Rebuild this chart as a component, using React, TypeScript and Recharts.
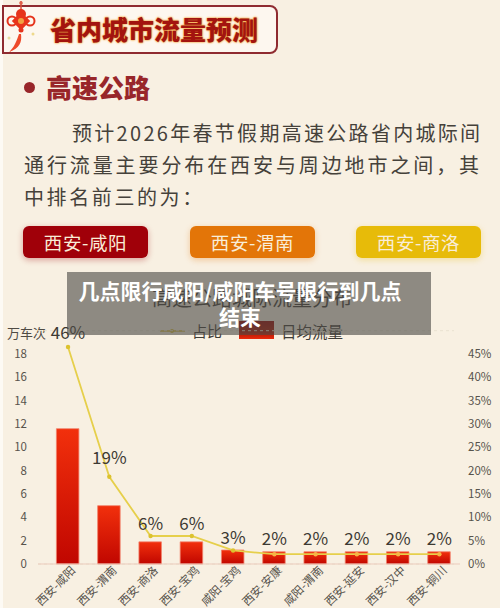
import React from 'react'
import { ComposedChart, Bar, Line, XAxis, YAxis, CartesianGrid, LabelList } from 'recharts'

const categories = ['西安-咸阳', '西安-渭南', '西安-商洛', '西安-宝鸡', '咸阳-宝鸡', '西安-安康', '咸阳-渭南', '西安-延安', '西安-汉中', '西安-铜川']
const dailyFlow = [11.6, 5.0, 1.9, 1.9, 1.2, 1.05, 1.05, 1.05, 1.05, 1.05]
const shareValues = [46.5, 18.7, 6, 6, 2.9, 2.1, 2.1, 2.1, 2.1, 2.1]
const shareLabels = ['46%', '19%', '6%', '6%', '3%', '2%', '2%', '2%', '2%', '2%']
const leftTicks = [0, 2, 4, 6, 8, 10, 12, 14, 16, 18]
const rightTicks = [0, 5, 10, 15, 20, 25, 30, 35, 40, 45]

const bannerTitle = '省内城市流量预测'
const sectionTitle = '高速公路'
const bodyLines = ['预计2026年春节假期高速公路省内城际间', '通行流量主要分布在西安与周边地市之间，其', '中排名前三的为：']
const topThree = ['西安-咸阳', '西安-渭南', '西安-商洛']
const pillColors = ['#a00009', '#e37508', '#e7bb09']
const chartTitle = '高速公路城际流量分布'
const overlayLines = ['几点限行咸阳/咸阳车号限行到几点', '结束']

const chartData = categories.map((name, i) => ({
  name,
  flow: dailyFlow[i],
  share: shareValues[i],
  label: shareLabels[i],
}))

const FONT = '"Noto Sans CJK SC", "Noto Sans", sans-serif'
const BG = '#f8f0e2'
// distance étiquette / point, elle varie selon les points sur l'image
const labelLift = [13, 17, 11, 11, 11, 14, 14, 14, 14, 14]

const abs = (left: number, top: number, extra: React.CSSProperties = {}): React.CSSProperties => ({
  position: 'absolute',
  left,
  top,
  whiteSpace: 'nowrap',
  ...extra,
})

function RotatedTick({ x, y, payload }: any) {
  return (
    <g transform={`translate(${x + 6},${y - 3})`}>
      <text textAnchor="end" dominantBaseline="middle" transform="rotate(-45)" fontSize={11.5} fill="#57534c" fontFamily={FONT}>
        {payload.value}
      </text>
    </g>
  )
}

function ShareDot({ cx, cy, index }: any) {
  return <circle cx={cx} cy={cy} r={2.2} fill={index >= 5 ? '#f6b445' : '#dcc22e'} />
}

function ShareLabel({ x, y, value, index }: any) {
  return (
    <text x={x} y={y - labelLift[index]} textAnchor="middle" dominantBaseline="middle" fontSize={17} fill="#3d3a33" fontFamily={FONT}>
      {value}
    </text>
  )
}

// la grille s'arrête un peu avant le bord droit, comme sur l'image
function GridLine({ x1, x2, y1, y2 }: any) {
  return <line x1={x1} x2={x2 - 6} y1={y1} y2={y2} stroke="#e9e2d0" strokeDasharray="3 3" />
}

function Knot() {
  return (
    <svg width={44} height={60} style={abs(0, 0)}>
      <line x1={21} y1={1} x2={21} y2={14} stroke="#d8503a" strokeWidth={1.5} />
      <circle cx={21} cy={3} r={1.8} fill="#e0604a" />
      <circle cx={21} cy={14} r={5} fill="#e5341c" />
      <circle cx={12} cy={21} r={4.5} fill="none" stroke="#e5341c" strokeWidth={2} />
      <circle cx={30} cy={21} r={4.5} fill="none" stroke="#e5341c" strokeWidth={2} />
      <rect x={14.5} y={14.5} width={13} height={13} fill="#e8341a" transform="rotate(45 21 21)" />
      <circle cx={21} cy={21} r={3} fill="#f2a040" />
      <circle cx={21} cy={30} r={2.5} fill="#e5341c" />
      <path d="M21 34 C22 42 20 48 9 52 C14 48 17 40 19 34 Z" fill="#ee4a2a" />
      <circle cx={33} cy={34} r={1.5} fill="#eed98c" />
      <circle cx={9} cy={38} r={1.5} fill="#e6dc9c" />
    </svg>
  )
}

export default function App() {
  return (
    <div style={{ position: 'fixed', left: 0, top: 0, width: 500, height: 608, background: BG, overflow: 'hidden', fontFamily: FONT }}>
      <div style={{ position: 'absolute', left: 0, top: 0, width: 3, height: 608, background: '#fdfaf4' }} />

      <div style={abs(2, 5, { width: 272, height: 45, border: '2px solid #8f2b30', borderRadius: '0 8px 8px 0', background: '#fdf7ef' })} />
      <Knot />
      <div style={abs(50, 12, { fontSize: 26, lineHeight: '34px', fontWeight: 900, color: '#a3140f', textShadow: '0 0 2px #f2a63a, 0 0 2px #f2a63a' })}>
        {bannerTitle}
      </div>

      <div style={{ position: 'absolute', left: 24, top: 82, width: 11, height: 11, borderRadius: '50%', background: '#98262a' }} />
      <div style={abs(46, 69, { fontSize: 26, lineHeight: '36px', fontWeight: 900, color: '#98262a' })}>{sectionTitle}</div>

      {bodyLines.map((line, i) => (
        <div key={line} style={abs(i === 0 ? 72 : 24, 117 + i * 32, { fontSize: 20, lineHeight: '32px', color: '#45413a', letterSpacing: i === 0 ? 2.3 : i === 1 ? 2.9 : 2.6 })}>
          {line}
        </div>
      ))}

      {topThree.map((name, i) => (
        <div
          key={name}
          style={abs([23, 190, 356][i], 226, {
            width: 125,
            height: 32,
            lineHeight: '32px',
            borderRadius: 6,
            background: pillColors[i],
            color: '#f9edd8',
            textAlign: 'center',
            fontSize: 18.5,
            letterSpacing: 0.6,
            boxShadow: `0 2px 6px ${pillColors[i]}55`,
          })}
        >
          {name}
        </div>
      ))}

      <div style={abs(152, 284, { fontSize: 20, lineHeight: '28px', color: '#3f3c36' })}>{chartTitle}</div>

      <svg width={30} height={10} style={abs(159, 326)}>
        <line x1={1} x2={26} y1={5} y2={5} stroke="#d9bd3c" strokeWidth={1.5} />
        <circle cx={13} cy={5} r={2} fill="#d9bd3c" />
      </svg>
      <div style={abs(192, 320, { fontSize: 15, lineHeight: '22px', color: '#3f3c36' })}>占比</div>
      <div style={{ position: 'absolute', left: 239, top: 321, width: 35, height: 18, background: 'linear-gradient(180deg, #930300 0%, #a81503 60%, #ea2b0d 100%)' }} />
      <div style={abs(281, 320, { fontSize: 15.5, lineHeight: '22px', color: '#3f3c36' })}>日均流量</div>

      <div style={abs(7, 323, { fontSize: 13, lineHeight: '20px', color: '#4f4b44' })}>万车次</div>

      <div style={{ position: 'absolute', left: 0, top: 0 }}>
        <ComposedChart width={500} height={608} data={chartData} margin={{ top: 330.7, right: 0, bottom: 0, left: 0 }} barCategoryGap="45%" style={{ fontFamily: FONT }}>
          <defs>
            <linearGradient id="flowFill" x1="0" y1="0" x2="0" y2="1">
              <stop offset="0%" stopColor="#f2300c" />
              <stop offset="100%" stopColor="#c00600" />
            </linearGradient>
          </defs>
          <CartesianGrid vertical={false} horizontal={<GridLine />} />
          <XAxis
            dataKey="name"
            height={44}
            interval={0}
            tick={<RotatedTick />}
            tickLine={false}
            axisLine={{ stroke: '#eccbbc' }}
            padding={{ left: 9.4, right: 0 }}
          />
          <YAxis
            yAxisId="flow"
            width={38}
            domain={[0, 20]}
            ticks={leftTicks}
            interval={0}
            axisLine={false}
            tickLine={false}
            tickMargin={5}
            tick={{ fontSize: 11.5, fill: '#57534c' }}
          />
          <YAxis
            yAxisId="share"
            orientation="right"
            width={40}
            domain={[0, 50]}
            ticks={rightTicks}
            interval={0}
            axisLine={false}
            tickLine={false}
            tickMargin={2}
            tickFormatter={(v: number) => `${v}%`}
            tick={{ fontSize: 11.5, fill: '#57534c' }}
          />
          <Bar yAxisId="flow" dataKey="flow" barSize={22.5} fill="url(#flowFill)" stroke="#f2806a" strokeWidth={0.8} isAnimationActive={false} />
          <Line
            yAxisId="share"
            dataKey="share"
            type="linear"
            stroke="#e6cf4b"
            strokeWidth={1.8}
            dot={<ShareDot />}
            activeDot={false}
            isAnimationActive={false}
          >
            <LabelList dataKey="label" content={<ShareLabel />} />
          </Line>
        </ComposedChart>
      </div>

      <div style={{ position: 'absolute', left: 67, top: 272, width: 364, height: 63, background: 'rgba(78,76,71,0.62)' }} />
      <div style={abs(78, 277, { width: 324, textAlign: 'center', fontSize: 21, lineHeight: '26px', fontWeight: 700, color: '#fff', whiteSpace: 'normal' })}>
        {overlayLines.map((t) => (
          <div key={t}>{t}</div>
        ))}
      </div>
    </div>
  )
}
